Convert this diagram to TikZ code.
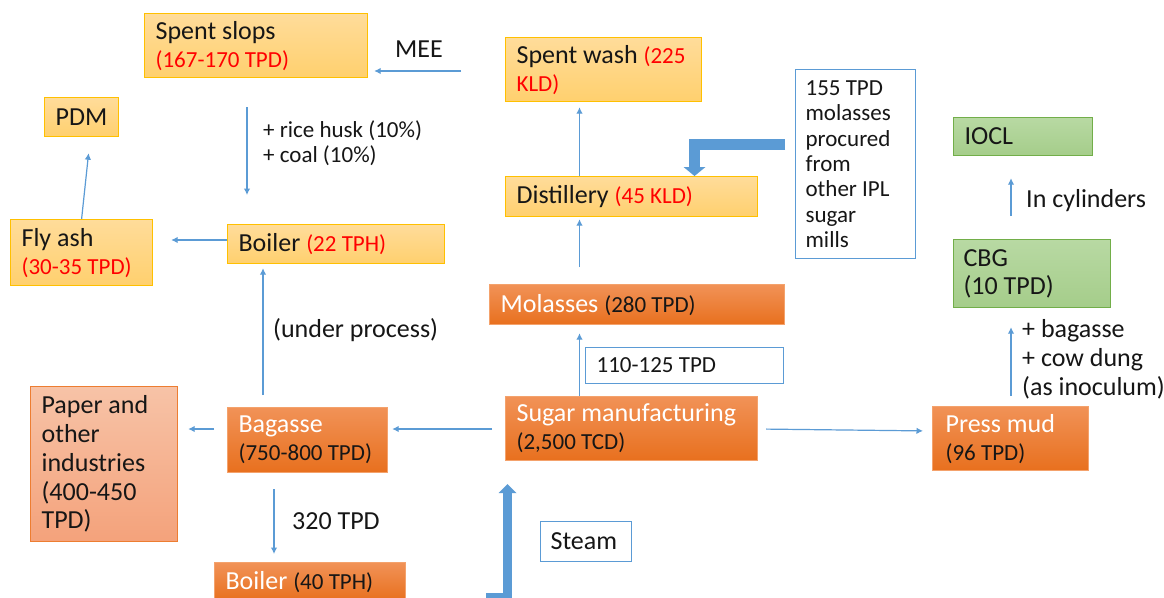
\documentclass[tikz,border=0pt]{standalone}
\usepackage{fontspec}
\setmainfont{Carlito}
\usetikzlibrary{arrows.meta}

\definecolor{ink}{HTML}{161616}
\definecolor{valred}{HTML}{FF0000}
\definecolor{goldT}{HTML}{FFDC9A}
\definecolor{goldD}{HTML}{FFD06E}
\definecolor{goldB}{HTML}{FFC000}
\definecolor{orT}{HTML}{F19257}
\definecolor{orD}{HTML}{E8701E}
\definecolor{orB}{HTML}{F4A26C}
\definecolor{saT}{HTML}{F7C3A7}
\definecolor{saD}{HTML}{F4A27B}
\definecolor{saB}{HTML}{ED7D31}
\definecolor{grT}{HTML}{B8D9A3}
\definecolor{grD}{HTML}{A5CD8A}
\definecolor{grB}{HTML}{72AE49}
\definecolor{flow}{HTML}{5B9BD5}

\newcommand\vbig{\fontsize{26}{28}\selectfont}
\newcommand\vsm{\fontsize{23}{28}\selectfont}
\newcommand\redv[1]{{\color{valred}\vsm #1}}
\newcommand\inkv[1]{{\color{ink}\vsm #1}}

\begin{document}
\begin{tikzpicture}[x=1pt,y=-1pt,
  box/.style={rectangle, anchor=north west, inner xsep=11pt, inner ysep=0pt,
    align=flush left, font=\vbig, text=ink, line width=1.2pt},
  gold/.style={box, draw=goldB, top color=goldT, bottom color=goldD},
  orng/.style={box, draw=orB, top color=orT, bottom color=orD, text=white},
  salmon/.style={box, draw=saB, top color=saT, bottom color=saD},
  green/.style={box, draw=grB, top color=grT, bottom color=grD},
  plain/.style={box, draw=flow, fill=white},
  lbl/.style={inner sep=0pt, anchor=base west, align=left, font=\vbig, text=ink},
  thin/.style={draw=flow, line width=1.2pt, -{Latex[length=6.5pt,width=6.5pt]}},
  fat/.style={draw=flow, line join=miter,
    -{Triangle[length=9pt,width=#1,line width=0pt]}},
]
\useasboundingbox (0,0) rectangle (1164,597);
\clip (0,0) rectangle (1164,597);
\fill[white] (0,0) rectangle (1164,597);

% ---- process boxes ----
\node[gold, minimum width=223pt, minimum height=64pt, text width=201pt] (slops) at (144,13)
  {Spent slops\\\redv{(167-170 TPD)}};
\node[gold, minimum width=74pt, minimum height=39pt, text width=52pt] (pdm) at (44,97) {PDM};
\node[gold, minimum width=142pt, minimum height=66pt, text width=120pt] (flyash) at (10,219)
  {Fly ash\\\redv{(30-35 TPD)}};
\node[gold, minimum width=217pt, minimum height=39pt, text width=195pt] (boiler22) at (227,224)
  {Boiler \redv{(22 TPH)}};
\node[gold, minimum width=196pt, minimum height=64pt, text width=174pt] (spentwash) at (505,37)
  {\mbox{Spent wash \redv{(225}}\\\redv{KLD)}};
\node[gold, minimum width=252pt, minimum height=40pt, text width=230pt] (distillery) at (505,176)
  {Distillery \redv{(45 KLD)}};
\node[plain, inner xsep=10pt, minimum width=120pt, minimum height=189pt, text width=100pt,
  font=\fontsize{23}{25.3}\selectfont] (procured) at (795,69)
  {155 TPD\\molasses\\procured\\from\\other IPL\\sugar\\mills};
\node[green, minimum width=139pt, minimum height=38pt, text width=117pt] (iocl) at (953,117) {IOCL};
\node[green, inner xsep=10pt, minimum width=157pt, minimum height=68pt, text width=137pt] (cbg) at (953,239)
  {CBG\\(10 TPD)};
\node[orng, minimum width=295pt, minimum height=40pt, text width=273pt] (molasses) at (489,284)
  {Molasses \inkv{(280 TPD)}};
\node[plain, minimum width=198pt, minimum height=36pt, text width=176pt, font=\vsm] (tpd110) at (585,347)
  {110-125 TPD};
\node[orng, minimum width=252pt, minimum height=64pt, text width=230pt] (sugar) at (505,396)
  {Sugar manufacturing\\\inkv{(2,500 TCD)}};
\node[orng, inner xsep=13pt, minimum width=156pt, minimum height=64pt, text width=130pt] (pressmud) at (932,406)
  {Press mud\\\inkv{(96 TPD)}};
\node[salmon, minimum width=147pt, minimum height=155pt, text width=125pt,
  font=\fontsize{26}{28.75}\selectfont] (paper) at (30,386)
  {Paper and\\other\\industries\\(400-450\\TPD)};
\node[orng, minimum width=160pt, minimum height=65pt, text width=138pt] (bagasse) at (227,407)
  {Bagasse\\\inkv{(750-800 TPD)}};
\node[plain, inner xsep=10pt, minimum width=91pt, minimum height=40pt, text width=71pt] (steam) at (540,521)
  {Steam};
\node[orng, minimum width=191pt, minimum height=38pt, text width=169pt] (boiler40) at (214,562)
  {Boiler \inkv{(40 TPH)}};

% ---- connector labels (multi-line labels sit on their last baseline) ----
\node[lbl] (mee) at (395,57) {MEE};
\node[lbl, font=\fontsize{23}{25}\selectfont] (additives) at (263,162) {+ rice husk (10\%)\\+ coal (10\%)};
\node[lbl] (underproc) at (273,337) {(under process)};
\node[lbl] (t320) at (292,529) {320 TPD};
\node[lbl] (cyl) at (1026,207) {In cylinders};
\node[lbl, font=\fontsize{26}{29}\selectfont] (inoc) at (1022,395) {+ bagasse\\+ cow dung\\(as inoculum)};

% ---- guide coordinates for the flow lines ----
\coordinate (meeS) at (461,71);
\coordinate (xa) at (247,0);
\coordinate (ya) at (0,240);
\coordinate (xb) at (263,0);
\coordinate (yc) at (0,429);
\coordinate (yf) at (0,431);
\coordinate (xd) at (274,0);
\coordinate (xe) at (579.5,0);
\coordinate (xg) at (1011,0);
\coordinate (yh) at (0,144.5);
\coordinate (xi) at (694.5,0);
\coordinate (xs) at (507.5,0);
\coordinate (steamfoot) at (486,597.5);

% ---- thin flow arrows ----
\draw[thin, shorten >=6pt] (meeS) -- (slops.east |- meeS);
\draw[thin, shorten <=29pt, shorten >=29pt] (slops.south -| xa) -- (boiler22.north -| xa);
\draw[thin, shorten >=18pt] (boiler22.west |- ya) -- (flyash.east |- ya);
\draw[thin] (flyash.north) -- ([xshift=7pt,yshift=-16pt]pdm.south);
\draw[thin, shorten <=12pt, shorten >=4pt] (bagasse.north -| xb) -- (boiler22.south -| xb);
\draw[thin, shorten <=13pt, shorten >=4pt] (sugar.west |- yc) -- (bagasse.east |- yc);
\draw[thin, shorten <=13pt, shorten >=10pt] (bagasse.west |- yc) -- (paper.east |- yc);
\draw[thin, shorten <=16pt, shorten >=8pt] (bagasse.south -| xd) -- (boiler40.north -| xd);
\draw[thin, shorten >=8pt] (sugar.north -| xe) -- (molasses.south -| xe);
\draw[thin, shorten <=17pt, shorten >=2pt] (molasses.north -| xe) -- (distillery.south -| xe);
\draw[thin, shorten >=5pt] (distillery.north -| xe) -- (spentwash.south -| xe);
\draw[thin, shorten <=8pt, shorten >=9pt] (sugar.east |- yc) -- (pressmud.west |- yf);
\draw[thin, shorten <=10pt, shorten >=19pt] (pressmud.north -| xg) -- (cbg.south -| xg);
\draw[thin, shorten <=23pt, shorten >=22pt] (cbg.north -| xg) -- (iocl.south -| xg);

% ---- block arrows ----
\draw[fat=22pt, line width=11pt, shorten <=10pt] (procured.west |- yh) -| (distillery.north -| xi);
\draw[fat=18pt, line width=9pt, shorten >=23pt] (steamfoot) -| (sugar.south -| xs);
\end{tikzpicture}
\end{document}
